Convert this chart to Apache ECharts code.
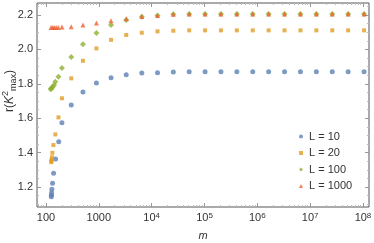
<!DOCTYPE html>
<html><head><meta charset="utf-8">
<script src="https://cdn.jsdelivr.net/npm/echarts@6/dist/echarts.min.js"></script>
<style>html,body{margin:0;padding:0;background:#fff}#c{width:374px;height:243px}</style>
</head><body><div id="c"></div>
<script>
// m values (x) and r(K^2_max) values (y)
const mL10 = [126,126.5,127.5,129,133,139,152,174,200,300,500,900,1700,3300,6500,12900,25700,51300,102500,204900,409700,819300,1638500,3276900,6553700,13107300,26214500,52428900,104857700];
const rL10 = [1.144,1.153,1.167,1.187,1.222,1.280,1.363,1.463,1.574,1.677,1.752,1.805,1.835,1.853,1.863,1.865,1.869,1.870,1.870,1.870,1.870,1.870,1.870,1.870,1.870,1.870,1.870,1.870,1.870];
const mL20 = [126,126.5,128,130,132,138,150,172,200,300,500,900,1700,3300,6500,12900,25700,51300,102500,204900,409700,819300,1638500,3276900,6553700,13107300,26214500,52428900,104857700];
const rL20 = [1.345,1.351,1.361,1.373,1.399,1.444,1.506,1.605,1.716,1.832,1.934,2.006,2.056,2.084,2.097,2.105,2.109,2.111,2.111,2.111,2.111,2.111,2.111,2.111,2.111,2.111,2.111,2.111,2.111];
const mL100 = [123,125,128,134,142,150,172,200,300,500,900,1700,3300,6500,12900,25700,51300,102500,204900,409700,819300,1638500,3276900,6553700,13107300,26214500,52428900,104857700];
const rL100 = [1.768,1.773,1.776,1.783,1.793,1.812,1.841,1.892,1.956,2.030,2.095,2.142,2.171,2.190,2.198,2.204,2.206,2.206,2.206,2.206,2.206,2.206,2.206,2.206,2.206,2.206,2.206,2.206];
const mL1000 = [124.5,134,143,156,171,200,300,500,900,1700,3300,6500,12900,25700,51300,102500,204900,409700,819300,1638500,3276900,6553700,13107300,26214500,52428900,104857700];
const rL1000 = [2.128,2.128,2.128,2.128,2.128,2.130,2.132,2.142,2.153,2.167,2.178,2.192,2.198,2.204,2.206,2.206,2.206,2.206,2.206,2.206,2.206,2.206,2.206,2.206,2.206,2.206];
const seriesNames = ['L = 10','L = 20','L = 100','L = 1000'];
const xMajorTicks = [100,1000,1e4,1e5,1e6,1e7,1e8];
const yMajorTicks = [1.2,1.4,1.6,1.8,2.0,2.2];

const xMinorTicks = [];
for (let e = 1; e <= 8; e++) for (let k = 2; k <= 9; k++) xMinorTicks.push(k * Math.pow(10, e));
const yMinorTicks = [];
for (let i = 22; i <= 45; i++) { const v = i / 20; if (i % 4 !== 0) yMinorTicks.push(+v.toFixed(2)); }

const XMIN = 67.5, XMAX = 1.3e8, YMIN = 1.084, YMAX = 2.27;
const FONT = 'Liberation Sans';
const txt = '#333';
const colors = ['#5E81B5','#E19C24','#8FB032','#EB6235'];

function xAx(pos, ticks, len, color, showLabel) {
  return {
    type: 'log', position: pos, min: XMIN, max: XMAX, logBase: 10,
    axisLine: {show: false}, splitLine: {show: false},
    axisTick: {show: true, inside: true, length: len, customValues: ticks, lineStyle: {color: color, width: 1}},
    axisLabel: showLabel ? {
      show: true, customValues: xMajorTicks, margin: 5, color: txt, fontSize: 11, fontFamily: FONT,
      formatter: v => { const e = Math.round(Math.log10(v)); return e <= 3 ? String(Math.round(v)) : '10{s|' + e + '}'; },
      rich: {s: {fontSize: 8, fontFamily: FONT, color: txt, verticalAlign: 'top', padding: [0,0,0,0], lineHeight: 8}}
    } : {show: false}
  };
}
function yAx(pos, ticks, len, color, showLabel) {
  return {
    type: 'value', position: pos, min: YMIN, max: YMAX,
    axisLine: {show: false}, splitLine: {show: false},
    axisTick: {show: true, inside: true, length: len, customValues: ticks, lineStyle: {color: color, width: 1}},
    axisLabel: showLabel ? {show: true, customValues: yMajorTicks, margin: 4, color: txt, fontSize: 11, fontFamily: FONT,
      formatter: v => v.toFixed(1)} : {show: false}
  };
}

const chart = echarts.init(document.getElementById('c'), null, {renderer: 'canvas'});
chart.setOption({
  animation: false,
  grid: {left: 37, top: 3, width: 332, height: 204, show: true, borderColor: '#555', borderWidth: 1, backgroundColor: 'transparent', outerBoundsMode: 'none', containLabel: false},
  xAxis: [
    Object.assign(xAx('bottom', xMajorTicks, 4, '#999', true), {name: 'm', nameLocation: 'middle', nameGap: 23,
      nameTextStyle: {fontStyle: 'italic', fontSize: 11, fontFamily: FONT, color: txt}}),
    xAx('bottom', xMinorTicks, 2, '#bbb', false),
    xAx('top', xMajorTicks, 4, '#999', false),
    xAx('top', xMinorTicks, 2, '#bbb', false)
  ],
  yAxis: [
    yAx('left', yMajorTicks, 4, '#999', true),
    yAx('left', yMinorTicks, 2, '#bbb', false),
    yAx('right', yMajorTicks, 4, '#999', false),
    yAx('right', yMinorTicks, 2, '#bbb', false)
  ],
  legend: {
    show: true, orient: 'vertical', left: 294, top: 125, itemWidth: 4, itemHeight: 4, itemGap: 3.5,
    selectedMode: false,
    textStyle: {fontSize: 11, fontFamily: FONT, color: txt, lineHeight: 13, padding: [0,0,0,1]},
    data: seriesNames
  },
  graphic: [{
    type: 'text', x: 10, y: 91, rotation: Math.PI / 2,
    style: {
      text: '{n|r(}{i|K}{sup|2}{sub|max}{n|)}',
      align: 'center', verticalAlign: 'middle',
      rich: {
        n: {fontSize: 12, fontFamily: FONT, fill: txt, lineHeight: 17},
        i: {fontSize: 12, fontFamily: FONT, fill: txt, fontStyle: 'italic', lineHeight: 17},
        sup: {fontSize: 9, fontFamily: FONT, fill: txt, verticalAlign: 'top', lineHeight: 9},
        sub: {fontSize: 9, fontFamily: FONT, fill: txt, verticalAlign: 'bottom', lineHeight: 9}
      }
    }
  }],
  series: [
    {name: seriesNames[0], type: 'scatter', symbol: 'circle', symbolSize: 5, itemStyle: {color: colors[0]}, data: mL10.map((m, i) => [m, rL10[i]])},
    {name: seriesNames[1], type: 'scatter', symbol: 'rect', symbolSize: 4, itemStyle: {color: colors[1]}, data: mL20.map((m, i) => [m, rL20[i]])},
    {name: seriesNames[2], type: 'scatter', symbol: 'diamond', symbolSize: 6, itemStyle: {color: colors[2]}, data: mL100.map((m, i) => [m, rL100[i]])},
    {name: seriesNames[3], type: 'scatter', symbol: 'triangle', symbolSize: 5, itemStyle: {color: colors[3]}, data: mL1000.map((m, i) => [m, rL1000[i]])}
  ]
});
</script></body></html>
